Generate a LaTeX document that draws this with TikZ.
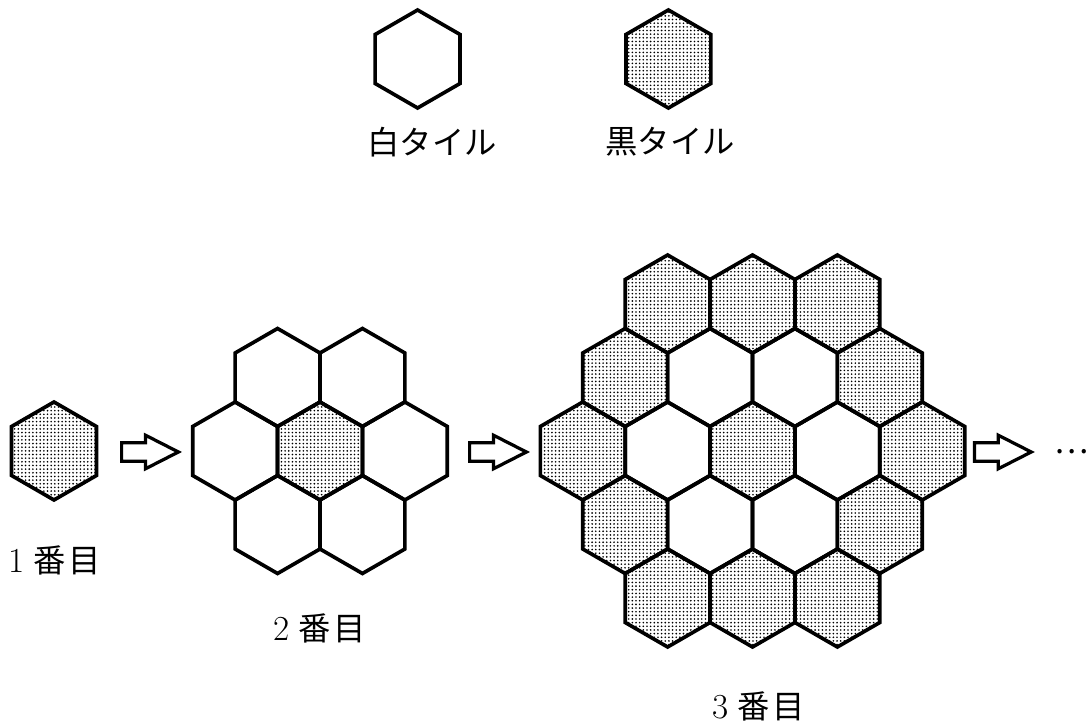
\documentclass[tikz,border=0pt]{standalone}
\usepackage{fontspec}
\newfontfamily\jp{Noto Sans CJK JP}
\usetikzlibrary{patterns, patterns.meta, shapes.arrows, positioning, calc}

\newcommand{\hexR}{1.225}
\newcommand{\hexW}{1.0609}
\newcommand{\hexH}{1.8375}
\newcommand{\hextile}[2]{%
  \draw[#1] (#2) +(90:\hexR) -- +(150:\hexR) -- +(210:\hexR) -- +(270:\hexR) -- +(330:\hexR) -- +(30:\hexR) -- cycle;}
\newcommand{\stepname}[1]{{\fontsize{25}{26}\selectfont\rmfamily #1}\hspace{0.25em}番\hspace{0.1em}目}

\tikzdeclarepattern{
  name=tiledots,
  type=uncolored,
  bottom left={(-1.3pt,-1.3pt)},
  top right={(1.3pt,1.3pt)},
  tile size={(2.6pt,2.6pt)},
  code={\fill (0,0) circle (0.65pt);}
}

\tikzset{
  tile/.style={line width=2.6pt, line join=miter},
  whitetile/.style={tile, draw},
  blacktile/.style={tile, draw, pattern=tiledots},
  tilelabel/.style={font=\jp\fontsize{23}{27}\selectfont, inner sep=0pt},
  nextarrow/.style={single arrow, draw, line width=2.3pt, minimum height=1.42cm,
    single arrow head extend=0.19cm, single arrow tip angle=54,
    inner xsep=0pt, inner ysep=0.19cm, anchor=tail}
}

\begin{document}
\begin{tikzpicture}
    \useasboundingbox (0,0) rectangle (27.2,18.125);

    % Labels
    \node[tilelabel] (wname) at (10.8, 14.575) {白タイル};
    \node[tilelabel] (bname) at (16.75, 14.575) {黒タイル};
    \node[tilelabel] (s1) at (1.375, 4.125) {\stepname{1}};
    \node[tilelabel] (s2) at (8.0, 2.425) {\stepname{2}};
    \node[tilelabel] (s3) at (18.975, 0.475) {\stepname{3}};
    \node[tilelabel] (more) at (26.78, 6.825) {…};

    % Arrows
    \node[nextarrow] (a1) at (3.0, 6.825) {};
    \node[nextarrow] (a2) at (11.7, 6.825) {};
    \node[nextarrow] (a3) at (24.32, 6.825) {};

    % Legend
    \coordinate (wtile) at (10.44, 16.65);
    \coordinate (btile) at (16.71, 16.65);
    \hextile{whitetile}{wtile}
    \hextile{blacktile}{btile}

    % Step 1
    \coordinate (g1) at (1.35, 6.85);
    \hextile{blacktile}{g1}

    % Step 2
    \coordinate (g2) at (8.0, 6.85);
    \hextile{blacktile}{g2}
    \foreach \i/\j in {2/0, -2/0, 1/1, -1/1, 1/-1, -1/-1}
        {\hextile{whitetile}{$(g2)+(\i*\hexW, \j*\hexH)$}}

    % Step 3
    \coordinate (g3) at (18.8125, 6.85);
    \hextile{blacktile}{g3}
    \foreach \i/\j in {4/0, 3/-1, 2/-2, 0/-2, -2/-2, -3/-1, -4/0, -3/1, -2/2, 0/2, 2/2, 3/1}
        {\hextile{blacktile}{$(g3)+(\i*\hexW, \j*\hexH)$}}
    \foreach \i/\j in {2/0, -2/0, 1/1, -1/1, 1/-1, -1/-1}
        {\hextile{whitetile}{$(g3)+(\i*\hexW, \j*\hexH)$}}
\end{tikzpicture}
\end{document}
